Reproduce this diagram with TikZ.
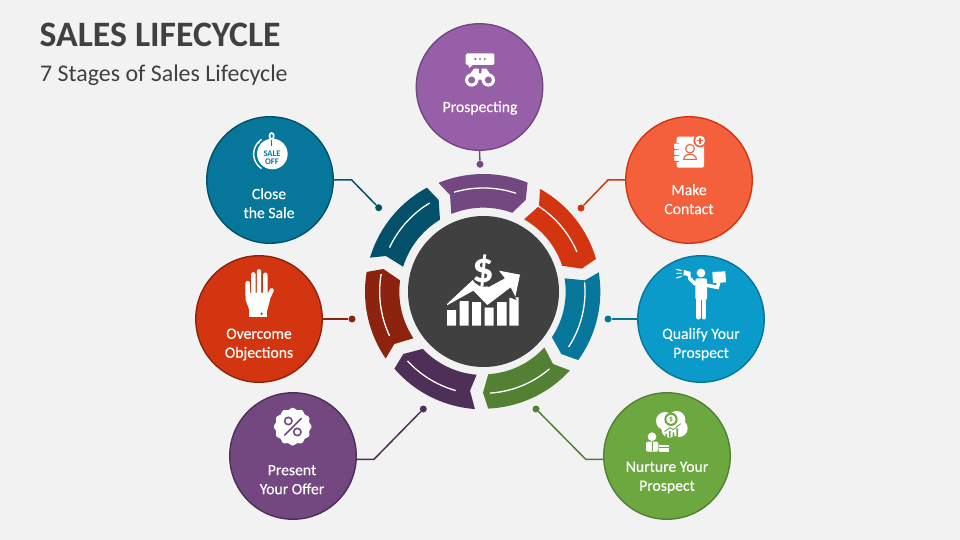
\documentclass[tikz,border=0pt]{standalone}
\usepackage{fontspec}
\setmainfont{Carlito}
\newfontface\labelface[FakeBold=0.25]{Carlito}
\newcommand\ringseg[9]{\fill plot[domain=#2:#3,samples=30]({400+#1*cos(\x)},{425+#1*sin(\x)}) -- #4 -- #5 -- plot[domain=#7:#8,samples=30]({400+#6*cos(\x)},{425+#6*sin(\x)}) -- #9 -- cycle;}
\newcommand\ringline[3]{\draw[white,line width=1.3pt] plot[domain=#2:#3,samples=30]({400+#1*cos(\x)},{425+#1*sin(\x)});}
\definecolor{bgc}{HTML}{F2F2F2}
\definecolor{titlec}{HTML}{404040}
\definecolor{purpleA}{HTML}{965FA7}
\definecolor{purpleB}{HTML}{73477F}
\definecolor{purpleC}{HTML}{4D2F58}
\definecolor{orangeA}{HTML}{F4603C}
\definecolor{redA}{HTML}{D2350F}
\definecolor{redB}{HTML}{8C230D}
\definecolor{blueA}{HTML}{0A9BCB}
\definecolor{blueB}{HTML}{06769A}
\definecolor{blueC}{HTML}{02506A}
\definecolor{greenA}{HTML}{6CA83F}
\definecolor{greenB}{HTML}{538032}
\tikzset{
  stage/.style={circle,draw=#1,line width=1.4pt,minimum size=126.5pt,inner sep=0pt},
  stagetext/.style={text=white,align=center,inner sep=0pt,font=\labelface\fontsize{15.7}{19}\selectfont},
  pin/.style={circle,fill=#1,minimum size=7pt,inner sep=0pt},
  link/.style={draw=#1,line width=1.5pt},
  zoomed/.style 2 args={x=0.33333pt,y=-0.33333pt,xshift=#1pt,yshift=-#2pt},
}
\begin{document}
\begin{tikzpicture}[x=1pt,y=-1pt]
\useasboundingbox (0,0) rectangle (960,540);
\fill[bgc] (0,0) rectangle (960,540);
\node[anchor=base west,inner sep=0pt,text=titlec,font=\fontsize{35.75}{40}\selectfont\bfseries] (title) at (39.5,46.7) {SALES LIFECYCLE};
\node[anchor=base west,inner sep=0pt,text=titlec,font=\fontsize{23.9}{28}\selectfont] (subtitle) at (40,81.8) {7 Stages of Sales Lifecycle};

% ring segments
\begin{scope}[zoomed={350}{150}]
\begin{scope}[fill=purpleB]
\ringseg{353}{-112.4}{-67.9}{(527,150)}{(487,188)}{252}{-69.8}{-112.4}{(300,135)}
\end{scope}
\ringline{311}{-106.3}{-71.6}
\begin{scope}[fill=redA]
\ringseg{352}{-61.1}{-16.2}{(695,356)}{(635,347)}{249}{-18.4}{-60.6}{(567,168)}
\end{scope}
\ringline{305}{-57.1}{-23}
\begin{scope}[fill=blueB]
\ringseg{351}{-9.5}{35.8}{(634,612)}{(606,562)}{247}{33.6}{-9.3}{(705,391)}
\end{scope}
\ringline{305}{-5.2}{32.9}
\begin{scope}[fill=greenB]
\ringseg{351}{42.3}{87.6}{(399,728)}{(415,672)}{248}{86.5}{42.4}{(609,642)}
\end{scope}
\ringline{305}{49.4}{86.3}
\begin{scope}[fill=purpleC]
\ringseg{353}{94.1}{139.1}{(160,612)}{(217,597)}{250}{136.8}{94.6}{(360,722)}
\end{scope}
\ringline{308}{105.6}{137.6}
\begin{scope}[fill=redB]
\ringseg{355}{145.6}{189.6}{(100,357)}{(150,391)}{252}{187.7}{146.3}{(133,582)}
\end{scope}
\ringline{311}{154.8}{189.8}
\begin{scope}[fill=blueC]
\ringseg{355}{196.7}{241.5}{(266,150)}{(270,210)}{252}{238.8}{197.3}{(108,318)}
\end{scope}
\ringline{311}{205.2}{238.8}
\end{scope}

% centre
\node[circle,fill=titlec,minimum size=151pt,inner sep=0pt] (hub) at (483.5,291.5) {};
\begin{scope}[zoomed={350}{150}]
\fill[white] (291,480) rectangle (318,527) (329,453) rectangle (356,527) (366,456) rectangle (393,527) (404,472) rectangle (431,527) (441,456) rectangle (470,527) (478,442) rectangle (506,527);
\fill[titlec] (291,470) -- (370,428) -- (412,471) -- (482,418) -- (500,450) -- (478,442) -- (470,456) -- (441,456) -- (431,472) -- (404,472) -- (393,456) -- (366,456) -- (356,453) -- (329,453) -- (318,480) -- (291,480) -- cycle;
\fill[white] (291,462) -- (378,381) -- (415,412) -- (465,385) -- (447,362) -- (510,374) -- (496,440) -- (482,412) -- (412,465) -- (370,422) -- (291,466) -- cycle;
\fill[titlec] (403,370) circle[radius=40];
\end{scope}
\node[text=white,inner sep=0pt,font=\fontsize{43}{44}\selectfont\bfseries] (dollar) at (483.5,271) {\$};

% stage circles
\node[stage=purpleB,fill=purpleA] (prospect) at (479.5,87) {};
\node[stage=redA,fill=orangeA] (make) at (689,180) {};
\node[stage=blueB,fill=blueA] (qualify) at (701,319) {};
\node[stage=greenB,fill=greenA] (nurture) at (667,456) {};
\node[stage=purpleC,fill=purpleB] (present) at (293,456) {};
\node[stage=redB,fill=redA] (overcome) at (259,319) {};
\node[stage=blueC,fill=blueB] (close) at (270,180) {};

% labels
\node[stagetext] (lprospect) at (480,108) {Prospecting};
\node[stagetext] (lmake) at (689,199.2) {Make\\Contact};
\node[stagetext] (lqualify) at (701,344.2) {Qualify Your\\Prospect};
\node[stagetext] (lnurture) at (667,477.5) {Nurture Your\\Prospect};
\node[stagetext] (lpresent) at (292,479.7) {Present\\Your Offer};
\node[stagetext] (lovercome) at (259,344.5) {Overcome\\Objections};
\node[stagetext] (lclose) at (269,203.2) {Close\\the Sale};

% pins and connectors
\node[pin=purpleB] (pprospect) at (480,164.3) {};
\node[pin=redA] (pmake) at (581,208) {};
\node[pin=blueB] (pqualify) at (608,319) {};
\node[pin=greenB] (pnurture) at (536,409) {};
\node[pin=purpleC] (ppresent) at (423.3,409) {};
\node[pin=redB] (povercome) at (352,319) {};
\node[pin=blueC] (pclose) at (378.7,207.7) {};
\coordinate (emake) at (608,180);
\coordinate (enurture) at (585.7,459.3);
\coordinate (epresent) at (374,459.3);
\coordinate (eclose) at (351.7,180);
\draw[link=purpleB] (prospect.south) -- (pprospect);
\draw[link=redA] (make.west) -- (emake) -- (pmake);
\draw[link=blueB] (qualify.west) -- (pqualify);
\draw[link=greenB] (nurture.183) -- (enurture) -- (pnurture);
\draw[link=purpleC] (present.-3) -- (epresent) -- (ppresent);
\draw[link=redB] (overcome.east) -- (povercome);
\draw[link=blueC] (close.east) -- (eclose) -- (pclose);

% Prospecting icon
\begin{scope}[zoomed={410}{20}]
\fill[white,rounded corners=1.5pt] (167,100) rectangle (253,135);
\fill[white] (174,133) -- (178,144) -- (190,133) -- cycle;
\fill[purpleA] (196,117) circle[radius=3.5] (210,117) circle[radius=3.5] (224,117) circle[radius=3.5];
\fill[white] (192,146) -- (206,146) -- (207,160) -- (214,160) -- (215,146) -- (229,146) -- (252,178) -- (232,190) -- (210,178) -- (188,190) -- (168,178) -- cycle;
\fill[white] (185,180) circle[radius=20] (235,180) circle[radius=20];
\fill[purpleA] (185,180) circle[radius=10.5] (235,180) circle[radius=10.5];
\end{scope}

% Close icon
\begin{scope}[zoomed={200}{110}]
\fill[white] (217,132) circle[radius=46];
\draw[white,line width=1.4pt] plot[domain=125:235,samples=20]({217+56*cos(\x)},{132+56*sin(\x)*0.95});
\fill[white] (176,98) circle[radius=3.5];
\draw[white,line width=1.7pt] (215,78) ellipse[x radius=6.5,y radius=9];
\fill[white] (208,86) rectangle (222,100);
\draw[blueB,line width=0.9pt] (215,90) -- (215,108);
\end{scope}
\node[text=blueB,align=center,inner sep=0pt,font=\fontsize{8.6}{8.4}\selectfont\bfseries] (saletag) at (272,158) {SALE\\OFF};

% Overcome icon
\begin{scope}[zoomed={190}{250},line cap=round]
\draw[white,line width=4.4pt] (173,99) -- (173,135) (190,73) -- (190,135) (207,64) -- (207,135) (226,74) -- (226,135) (245,121) -- (232,148);
\fill[white] (167,128) -- (167,150) -- (178,180) -- (232,180) -- (240,150) -- (232,128) -- cycle;
\fill[white] (178,178) rectangle (232,200);
\fill[redA] (215,191) circle[radius=4];
\end{scope}

% Present icon
\begin{scope}[zoomed={225}{385}]
\fill[white] plot[domain=0:360,samples=145,smooth]({203+(54+2.5*cos(12*\x))*cos(\x)},{125+(54+2.5*cos(12*\x))*sin(\x)}) -- cycle;
\draw[purpleB,line width=1.6pt] (190,108) circle[radius=11] (217,141) circle[radius=11];
\draw[purpleB,line width=1.6pt,line cap=round] (229,100) -- (179,150);
\end{scope}

% Make icon
\begin{scope}[zoomed={600}{110}]
\fill[white,rounded corners=1.5pt] (230,80) rectangle (312,173);
\fill[orangeA] (219,98) rectangle (238,156);
\fill[white,rounded corners=1pt] (222,101) rectangle (240,117) (222,120) rectangle (240,135) (222,138) rectangle (240,153);
\draw[orangeA,line width=1.1pt] (270,116) circle[radius=13];
\draw[orangeA,line width=1.1pt] (251,148) .. controls (251,128) and (289,128) .. (289,148) -- cycle;
\fill[orangeA] (300,92) circle[radius=20];
\fill[white] (300,92) circle[radius=15];
\draw[orangeA,line width=1.3pt] (291,92) -- (309,92) (300,83) -- (300,101);
\end{scope}

% Qualify icon
\begin{scope}[zoomed={600}{250}]
\fill[white] (303,69) circle[radius=13];
\fill[white,rounded corners=2pt] (286,85) rectangle (321,150);
\draw[white,line width=4.4pt,line cap=round] (295,145) -- (295,202) (312,145) -- (312,202);
\draw[white,line width=3.6pt,line cap=round] (285,102) -- (268,84) (322,106) -- (352,112) -- (356,98);
\fill[white] (252,60) -- (272,66) -- (272,85) -- (258,76) -- (250,76) -- cycle;
\draw[white,line width=1.1pt] (229,58) -- (245,62) (229,70) -- (245,70) (229,84) -- (245,79);
\fill[white] (337,66) -- (376,64) -- (378,97) -- (339,99) -- cycle;
\end{scope}

% Nurture icon
\begin{scope}[zoomed={530}{385}]
\fill[white] (405,108) circle[radius=27] (440,104) circle[radius=26] (418,135) circle[radius=23] (447,130) circle[radius=26];
\fill[greenA] (423,103) circle[radius=20];
\fill[white] (423,103) circle[radius=14];
\draw[greenA,line width=0.9pt] (404,140) -- (420,128) -- (430,134) -- (452,116);
\fill[greenA] (406,146) rectangle (411,156) (417,138) rectangle (422,156) (428,142) rectangle (433,156) (439,130) rectangle (444,156);
\fill[white] (366,155) circle[radius=13];
\fill[white,rounded corners=2pt] (348,170) rectangle (385,200);
\draw[greenA,line width=1pt] (366,172) -- (366,198);
\fill[white] (388,180) rectangle (416,201);
\draw[greenA,line width=0.6pt] (388,188) -- (416,188);
\end{scope}
\node[text=greenA,inner sep=0pt,font=\fontsize{7.5}{8}\selectfont\bfseries] (coinsign) at (671,419.3) {\$};
\end{tikzpicture}
\end{document}
